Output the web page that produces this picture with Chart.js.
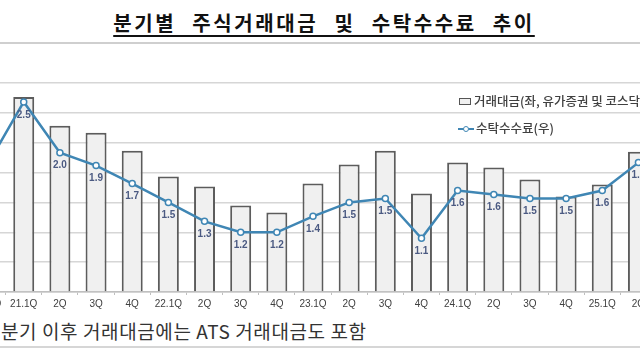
<!DOCTYPE html>
<html>
<head>
<meta charset="utf-8">
<script src="https://cdn.jsdelivr.net/npm/chart.js@4"></script>
<style>
  html, body { margin: 0; padding: 0; background: #fff; }
  body { width: 640px; height: 360px; overflow: hidden; position: relative; font-family: "Noto Sans CJK KR", sans-serif; }
  #title { position: absolute; left: 0; width: 648px; top: 8px; text-align: center; font-size: 20px; font-weight: 700; color: #111;
           letter-spacing: 2.6px; word-spacing: 9px; text-decoration: underline; text-decoration-thickness: 2px; text-underline-offset: 4px; }
  .rule { position: absolute; left: 0; width: 640px; height: 2px; background: #cfcfcf; }
  #wrap { position: absolute; left: -36px; top: 0; width: 698px; height: 312px; }
  .leg { position: absolute; font-size: 12.5px; font-weight: 500; color: #404040; white-space: nowrap; }
  #note { position: absolute; left: 1px; top: 317px; font-size: 19px; letter-spacing: 0.6px; color: #333; white-space: nowrap; }
</style>
</head>
<body>
<div id="title">분기별 주식거래대금 및 수탁수수료 추이</div>
<div class="rule" style="top:42px"></div>
<div id="wrap"><canvas id="myChart"></canvas></div>
<div class="leg" style="left:459px; top:91px;"><span style="display:inline-block;width:10px;height:5px;border:1.5px solid #555;background:#f0f0f0;margin-right:3px;vertical-align:1px;"></span>거래대금(좌, 유가증권 및 코스닥)</div>
<div class="leg" style="left:458px; top:118px;"><span style="display:inline-block;position:relative;width:16px;height:8px;margin-right:2px;vertical-align:0px;"><span style="position:absolute;left:0;top:3px;width:16px;height:2px;background:#3f86b4;"></span><span style="position:absolute;left:5px;top:0.5px;width:4px;height:4px;border:1.5px solid #3f86b4;border-radius:50%;background:#fff;"></span></span>수탁수수료(우)</div>
<div id="note">분기 이후 거래대금에는 ATS 거래대금도 포함</div>
<div class="rule" style="top:346px; background:#d6d6d6;"></div>
<script>
// categories (20.4Q is only partly in the frame, on the left)
var quarters = ['20.4Q', '21.1Q', '2Q', '3Q', '4Q', '22.1Q', '2Q', '3Q', '4Q', '23.1Q', '2Q', '3Q', '4Q', '24.1Q', '2Q', '3Q', '4Q', '25.1Q', '2Q'];
// 거래대금 (left axis, estimated)
var tradingValue = [null, 1960, 1670, 1600, 1420, 1160, 1060, 870, 800, 1090, 1280, 1420, 990, 1300, 1250, 1130, 960, 1080, 1410];
// 수탁수수료 (right axis)
var commissionFee = [1.88, 2.51, 2.0, 1.87, 1.69, 1.5, 1.31, 1.2, 1.2, 1.36, 1.5, 1.54, 1.14, 1.62, 1.58, 1.54, 1.54, 1.62, 1.9];

var lineColor = '#3f86b4';

// value labels under the points of the line
const pointLabels = {
    id: 'pointLabels',
    afterDatasetsDraw(chart) {
        const meta = chart.getDatasetMeta(1);
        const ctx = chart.ctx;
        ctx.save();
        ctx.font = 'bold 10px "Liberation Sans", Arial, sans-serif';
        ctx.fillStyle = '#4b5a82';
        ctx.textAlign = 'center';
        ctx.textBaseline = 'middle';
        meta.data.forEach(function (pt, i) {
            ctx.fillText(commissionFee[i].toFixed(1), pt.x, pt.y + 13);
        });
        ctx.restore();
    }
};

const data =
{
    labels: quarters,
    datasets:
    [
        {
            type: 'bar',
            label: '거래대금(좌, 유가증권 및 코스닥)',
            data: tradingValue,
            yAxisID: 'y',
            backgroundColor: '#f0f0f0',
            borderColor: '#5c5c5c',
            borderWidth: 2,
            barPercentage: 0.58,
            categoryPercentage: 1,
            order: 2
        },
        {
            type: 'line',
            label: '수탁수수료(우)',
            data: commissionFee,
            yAxisID: 'y1',
            borderColor: lineColor,
            borderWidth: 2.5,
            tension: 0,
            pointRadius: 3,
            pointBorderWidth: 1.5,
            pointBackgroundColor: '#fff',
            pointBorderColor: lineColor,
            order: 1
        }
    ]
};

const config =
{
    type: 'bar',
    data,
    options:
    {
        responsive: false,
        animation: false,
        layout: { padding: { top: 83, left: 0, right: 0, bottom: 0 } },
        plugins: { legend: { display: false }, tooltip: { enabled: false } },
        scales:
        {
            x:
            {
                offset: true,
                grid: { drawOnChartArea: false, drawTicks: true, tickLength: 3, color: '#bfbfbf', offset: true },
                border: { display: true, color: '#bfbfbf', width: 1.5 },
                ticks: { color: '#404040', font: { family: '"Liberation Sans", Arial, sans-serif', size: 10 }, padding: 3, maxRotation: 0, autoSkip: false },
                afterFit: function (s) { s.height = 20; }
            },
            y:
            {
                position: 'left',
                min: 0,
                max: 2100,
                ticks: { display: false, stepSize: 300 },
                grid: { color: '#d6d6d6', lineWidth: 1.5, drawTicks: false },
                border: { display: false },
                afterFit: function (s) { s.width = 0; }
            },
            y1:
            {
                position: 'right',
                display: false,
                min: 0.6,
                max: 2.7
            }
        }
    },
    plugins: [pointLabels]
};

const canvas = document.getElementById('myChart');
canvas.width = 698;
canvas.height = 312;
const myChart = new Chart(canvas, config);
</script>
</body>
</html>
